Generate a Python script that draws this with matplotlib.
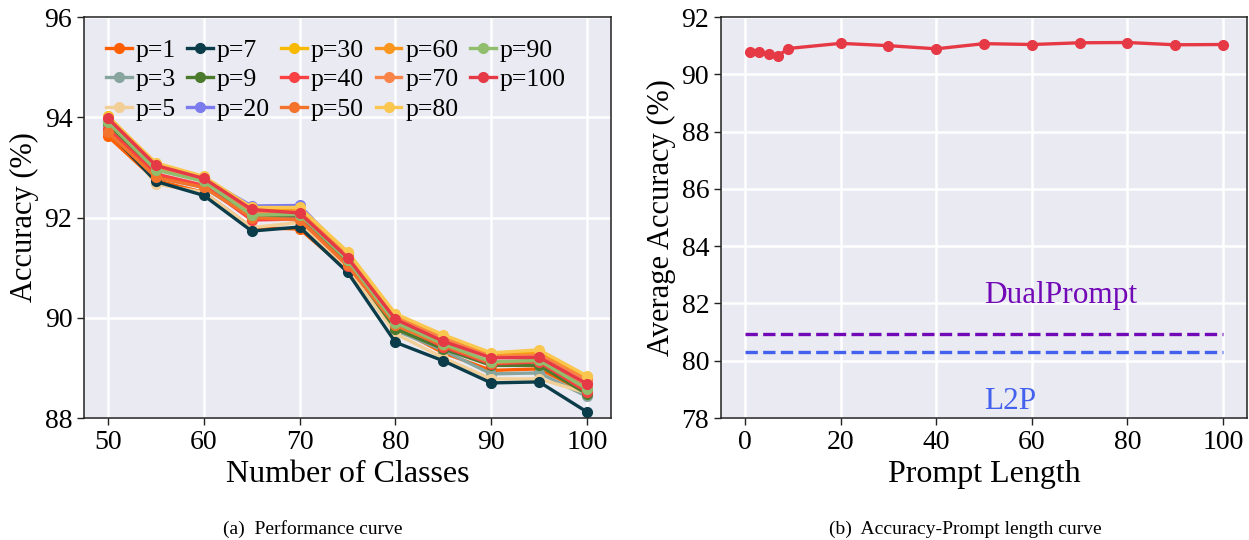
import matplotlib
matplotlib.use("Agg")
import matplotlib.pyplot as plt

plt.rcParams['font.family'] = ['Liberation Serif', 'DejaVu Serif']

# (a) accuracy vs number of classes for each prompt length p
classes = [50, 55, 60, 65, 70, 75, 80, 85, 90, 95, 100]
p_labels = ['p=1', 'p=3', 'p=5', 'p=7', 'p=9', 'p=20', 'p=30', 'p=40',
            'p=50', 'p=60', 'p=70', 'p=80', 'p=90', 'p=100']
p_colors = ['#FF5F00', '#87A59E', '#F3CF98', '#0B3C49', '#4C7A2C', '#7B7BEE',
            '#F7BA00', '#F94144', '#F3722C', '#F8961E', '#F9844A', '#F9C74F',
            '#90BE6D', '#E63946']
acc_p1 = [93.62, 92.74, 92.50, 91.80, 91.77, 90.95, 89.80, 89.30, 88.95, 88.98, 88.50]
acc_p3 = [93.85, 92.80, 92.60, 92.00, 92.00, 91.05, 89.75, 89.35, 88.88, 88.90, 88.43]
acc_p5 = [93.90, 92.67, 92.50, 91.80, 91.90, 91.00, 89.68, 89.20, 88.78, 88.78, 88.50]
acc_p7 = [93.73, 92.72, 92.44, 91.73, 91.81, 90.91, 89.51, 89.14, 88.70, 88.72, 88.12]
acc_p9 = [93.88, 92.85, 92.62, 92.03, 92.04, 91.10, 89.78, 89.38, 89.05, 89.05, 88.48]
acc_p20 = [93.95, 93.05, 92.78, 92.23, 92.24, 91.25, 90.00, 89.58, 89.22, 89.25, 88.72]
acc_p30 = [94.02, 93.07, 92.80, 92.15, 92.18, 91.30, 90.02, 89.60, 89.27, 89.30, 88.80]
acc_p40 = [93.77, 92.87, 92.64, 91.95, 91.97, 91.04, 89.88, 89.42, 89.08, 89.12, 88.52]
acc_p50 = [93.70, 92.80, 92.60, 92.00, 91.95, 91.05, 89.85, 89.45, 89.10, 89.15, 88.60]
acc_p60 = [93.95, 93.05, 92.78, 92.12, 92.14, 91.25, 90.04, 89.62, 89.25, 89.28, 88.78]
acc_p70 = [93.92, 93.00, 92.75, 92.10, 92.10, 91.22, 90.00, 89.58, 89.22, 89.25, 88.75]
acc_p80 = [94.00, 93.09, 92.82, 92.20, 92.20, 91.32, 90.08, 89.66, 89.30, 89.36, 88.84]
acc_p90 = [93.90, 92.95, 92.72, 92.05, 92.06, 91.15, 89.90, 89.48, 89.12, 89.15, 88.58]
acc_p100 = [93.98, 93.04, 92.78, 92.16, 92.09, 91.20, 89.97, 89.53, 89.20, 89.21, 88.68]
acc_all = [acc_p1, acc_p3, acc_p5, acc_p7, acc_p9, acc_p20, acc_p30, acc_p40,
           acc_p50, acc_p60, acc_p70, acc_p80, acc_p90, acc_p100]

# (b) average accuracy vs prompt length
prompt_len = [1, 3, 5, 7, 9, 20, 30, 40, 50, 60, 70, 80, 90, 100]
avg_acc = [90.79, 90.79, 90.70, 90.65, 90.90, 91.08, 91.00, 90.89, 91.07,
           91.04, 91.10, 91.11, 91.03, 91.04]
base_x = [0, 100]
dualprompt_acc = 80.94
l2p_acc = 80.30

BG = '#EAEAF2'

fig = plt.figure(figsize=(12.49, 5.4), dpi=100)
ax1 = fig.add_axes([0.0673, 0.2259, 0.4219, 0.7426])
ax2 = fig.add_axes([0.5773, 0.2259, 0.4211, 0.7426])

for ax in (ax1, ax2):
    ax.set_facecolor(BG)
    ax.grid(True, color='white', linewidth=1.8)
    ax.set_axisbelow(True)
    for s in ax.spines.values():
        s.set_color('#222222')
        s.set_linewidth(1.1)
    ax.tick_params(labelsize=20, length=5, width=1.0, color='#222222')

for lab, col, ys in zip(p_labels, p_colors, acc_all):
    ax1.plot(classes, ys, '-o', color=col, label=lab, linewidth=2.4,
             markersize=7)
ax1.set_ylim(88, 96)
ax1.set_yticks([88, 90, 92, 94, 96])
ax1.set_xticks([50, 60, 70, 80, 90, 100])
ax1.set_xlabel('Number of Classes', fontsize=23)
ax1.set_ylabel('Accuracy (%)', fontsize=22)
ax1.legend(loc='upper left', ncol=5, frameon=False, fontsize=18.5,
           handlelength=1.0, handletextpad=0.15, columnspacing=0.45,
           labelspacing=0.25, borderaxespad=0.45, borderpad=0.4)

ax2.plot(prompt_len, avg_acc, '-o', color='#E63946', linewidth=2.4,
         markersize=7)
ax2.plot(base_x, [dualprompt_acc] * 2, '--', color='#7209B7', linewidth=2.4)
ax2.plot(base_x, [l2p_acc] * 2, '--', color='#4361EE', linewidth=2.4)
ax2.text(50, 82.0, 'DualPrompt', color='#7209B7', fontsize=22.5, va='baseline')
ax2.text(50, 78.3, 'L2P', color='#4361EE', fontsize=22.5, va='baseline')
ax2.set_ylim(78, 92)
ax2.set_yticks(list(range(78, 93, 2)))
ax2.set_xticks([0, 20, 40, 60, 80, 100])
ax2.set_xlabel('Prompt Length', fontsize=23)
ax2.set_ylabel('Average Accuracy (%)', fontsize=22)

fig.text(0.2506, 0.012, '(a)  Performance curve', ha='center', fontsize=14)
fig.text(0.7725, 0.012, '(b)  Accuracy-Prompt length curve', ha='center',
         fontsize=14)

fig.savefig('out.png', dpi=100, facecolor='white')
